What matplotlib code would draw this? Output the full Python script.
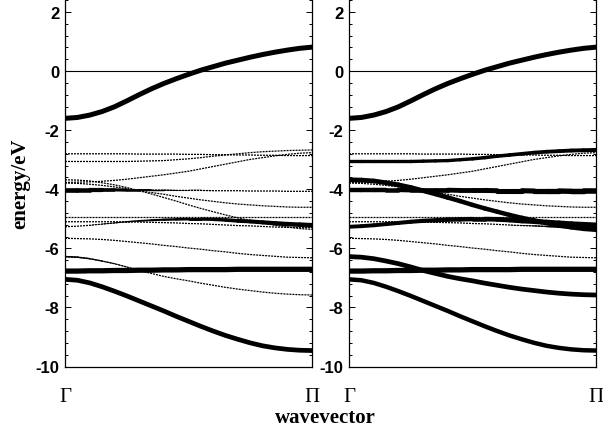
import numpy as np
import matplotlib
matplotlib.use("Agg")
import matplotlib.pyplot as plt
from matplotlib.collections import LineCollection
from matplotlib.ticker import MultipleLocator

# ---------------- data ----------------
k_path = [0.00, 0.05, 0.10, 0.15, 0.20, 0.25, 0.30, 0.35, 0.40, 0.45, 0.50,
          0.55, 0.60, 0.65, 0.70, 0.75, 0.80, 0.85, 0.90, 0.95, 1.00]
k_tick_labels = ["Γ", "Π"]

band_01 = [-1.60, -1.57, -1.49, -1.37, -1.21, -1.01, -0.80, -0.60, -0.42, -0.26, -0.11,
           0.03, 0.15, 0.27, 0.37, 0.47, 0.56, 0.64, 0.71, 0.77, 0.81]
band_02 = [-2.80, -2.80, -2.80, -2.80, -2.80, -2.80, -2.81, -2.81, -2.81, -2.81, -2.82,
           -2.82, -2.83, -2.83, -2.84, -2.84, -2.85, -2.85, -2.86, -2.86, -2.86]
band_03 = [-3.06, -3.06, -3.06, -3.06, -3.06, -3.06, -3.05, -3.04, -3.03, -3.00, -2.97,
           -2.93, -2.88, -2.84, -2.80, -2.76, -2.73, -2.71, -2.69, -2.68, -2.67]
band_04 = [-3.77, -3.76, -3.75, -3.73, -3.70, -3.66, -3.61, -3.56, -3.51, -3.45, -3.39,
           -3.31, -3.23, -3.15, -3.07, -2.99, -2.93, -2.87, -2.82, -2.78, -2.76]
band_05 = [-3.79, -3.80, -3.83, -3.87, -3.92, -3.98, -4.05, -4.11, -4.17, -4.24, -4.30,
           -4.36, -4.41, -4.46, -4.50, -4.53, -4.56, -4.58, -4.60, -4.61, -4.61]
band_06 = [-4.02, -4.02, -4.02, -4.02, -4.02, -4.03, -4.03, -4.03, -4.03, -4.04, -4.04,
           -4.04, -4.05, -4.05, -4.05, -4.06, -4.06, -4.06, -4.07, -4.07, -4.07]
band_07 = [-3.68, -3.69, -3.72, -3.78, -3.85, -3.94, -4.05, -4.16, -4.28, -4.40, -4.53,
           -4.65, -4.76, -4.87, -4.97, -5.06, -5.14, -5.22, -5.28, -5.33, -5.36]
band_08 = [-4.93] * 21
band_09 = [-5.10, -5.10, -5.10, -5.10, -5.10, -5.11, -5.11, -5.12, -5.13, -5.14, -5.16,
           -5.17, -5.19, -5.21, -5.23, -5.24, -5.26, -5.28, -5.29, -5.30, -5.30]
band_10 = [-5.27, -5.25, -5.22, -5.18, -5.14, -5.10, -5.07, -5.05, -5.03, -5.02, -5.01,
           -5.01, -5.02, -5.04, -5.07, -5.09, -5.12, -5.15, -5.18, -5.20, -5.22]
band_11 = [-5.66, -5.67, -5.68, -5.70, -5.73, -5.77, -5.81, -5.85, -5.90, -5.94, -5.99,
           -6.03, -6.08, -6.12, -6.17, -6.21, -6.24, -6.27, -6.30, -6.31, -6.32]
band_12 = [-6.28, -6.30, -6.35, -6.43, -6.52, -6.63, -6.75, -6.85, -6.95, -7.03, -7.10,
           -7.18, -7.25, -7.32, -7.38, -7.43, -7.48, -7.52, -7.55, -7.57, -7.58]
band_13 = [-6.77, -6.77, -6.76, -6.76, -6.75, -6.75, -6.74, -6.74, -6.73, -6.73, -6.72,
           -6.72, -6.72, -6.72, -6.71, -6.71, -6.71, -6.71, -6.71, -6.71, -6.71]
band_14 = [-7.05, -7.08, -7.17, -7.30, -7.45, -7.61, -7.78, -7.95, -8.12, -8.30, -8.47,
           -8.64, -8.80, -8.95, -9.08, -9.20, -9.30, -9.37, -9.42, -9.45, -9.46]

bands = [band_01, band_02, band_03, band_04, band_05, band_06, band_07,
         band_08, band_09, band_10, band_11, band_12, band_13, band_14]

zero = [0.0] * 21

# fat-band weights (0..1), left panel
wl_01 = [0.9] * 21
wl_06 = [0.85, 0.83, 0.80, 0.72, 0.62, 0.52, 0.40, 0.30, 0.22, 0.15, 0.10,
         0.07, 0.04, 0.02, 0, 0, 0, 0, 0, 0, 0]
wl_10 = [0, 0.02, 0.05, 0.10, 0.15, 0.22, 0.28, 0.34, 0.40, 0.45, 0.50,
         0.55, 0.60, 0.64, 0.68, 0.72, 0.75, 0.78, 0.80, 0.83, 0.85]
wl_12 = [0.30, 0.28, 0.25, 0.20, 0.15, 0.10, 0.05, 0.02, 0, 0, 0,
         0, 0, 0, 0, 0, 0, 0, 0, 0, 0]
wl_13 = [0.95] * 21
wl_14 = [0.85] * 21
weights_left = [wl_01, zero, zero, zero, zero, wl_06, zero,
                zero, zero, wl_10, zero, wl_12, wl_13, wl_14]

# fat-band weights (0..1), right panel
wr_01 = [0.9] * 21
wr_03 = [0.60, 0.60, 0.60, 0.60, 0.60, 0.60, 0.60, 0.60, 0.60, 0.61, 0.62,
         0.63, 0.64, 0.65, 0.66, 0.67, 0.68, 0.69, 0.70, 0.71, 0.72]
wr_06 = [0.80, 0.80, 0.80, 0.81, 0.82, 0.83, 0.84, 0.85, 0.86, 0.87, 0.88,
         0.89, 0.90, 0.91, 0.92, 0.93, 0.95, 0.96, 0.98, 0.99, 1.00]
wr_07 = [0.85, 0.85, 0.85, 0.85, 0.85, 0.85, 0.85, 0.85, 0.83, 0.82, 0.80,
         0.80, 0.80, 0.81, 0.82, 0.84, 0.86, 0.88, 0.90, 0.92, 0.95]
wr_09 = [0, 0, 0, 0, 0, 0, 0, 0, 0, 0, 0,
         0, 0, 0.05, 0.10, 0.18, 0.25, 0.32, 0.40, 0.45, 0.50]
wr_10 = [0.70, 0.70, 0.70, 0.71, 0.72, 0.73, 0.75, 0.76, 0.78, 0.79, 0.80,
         0.82, 0.85, 0.88, 0.90, 0.92, 0.95, 0.98, 1.00, 1.00, 1.00]
wr_12 = [0.85] * 21
wr_13 = [0.95] * 21
wr_14 = [0.8] * 21
weights_right = [wr_01, zero, wr_03, zero, zero, wr_06, wr_07,
                 zero, wr_09, wr_10, zero, wr_12, wr_13, wr_14]

# ---------------- drawing ----------------
MAX_LW = 4.0

fig = plt.figure(figsize=(6.03, 4.35), dpi=100)
ax_l = fig.add_axes([65 / 603, (435 - 367.5) / 435, 247 / 603, 367.5 / 435])
ax_r = fig.add_axes([349 / 603, (435 - 367.5) / 435, 247 / 603, 367.5 / 435])

tick_font = dict(family="Liberation Sans", weight="bold", size=12)

for ax, weights in ((ax_l, weights_left), (ax_r, weights_right)):
    ax.axhline(0.0, color="black", lw=0.8, zorder=1)
    for e in bands:
        ax.plot(k_path, e, color="black", lw=0.9, ls=(0, (1.6, 0.8)), zorder=2)
    for e, w in zip(bands, weights):
        if max(w) <= 0:
            continue
        if min(w) == max(w):
            # constant weight: one smooth polyline
            ax.plot(k_path, e, color="black", lw=MAX_LW * w[0],
                    solid_capstyle="round", solid_joinstyle="round", zorder=3)
            continue
        segs, lws = [], []
        for i in range(len(k_path) - 1):
            lw = MAX_LW * 0.5 * (w[i] + w[i + 1])
            if lw > 0.15:
                segs.append([(k_path[i], e[i]), (k_path[i + 1], e[i + 1])])
                lws.append(lw)
        if segs:
            lc = LineCollection(segs, linewidths=lws, colors="black",
                                capstyle="round", joinstyle="round", zorder=3)
            ax.add_collection(lc)
    ax.set_xlim(0, 1)
    ax.set_ylim(-10, 2.44)
    ax.spines["top"].set_visible(False)
    for s in ("left", "right", "bottom"):
        ax.spines[s].set_linewidth(0.9)
    ax.yaxis.set_major_locator(MultipleLocator(2))
    ax.yaxis.set_minor_locator(MultipleLocator(0.4))
    ax.tick_params(axis="y", which="both", direction="in", left=True, right=True,
                   width=0.7)
    ax.tick_params(axis="y", which="major", length=4, pad=4)
    ax.tick_params(axis="y", which="minor", length=2.5)
    ax.set_yticks([2, 0, -2, -4, -6, -8, -10])
    ax.set_yticklabels(["2", "0", "-2", "-4", "-6", "-8", "-10"], fontdict=tick_font)
    ax.set_xticks([0, 1])
    ax.set_xticklabels(k_tick_labels, family="Liberation Serif", size=15)
    ax.tick_params(axis="x", length=0, pad=15)

ax_l.set_ylabel("energy/eV", family="Liberation Serif", weight="bold", size=15,
                labelpad=4)
fig.text(325 / 603, 1 - 418 / 435, "wavevector", family="Liberation Serif",
         weight="bold", size=15, ha="center", va="center")

fig.savefig("out.png", dpi=100)
